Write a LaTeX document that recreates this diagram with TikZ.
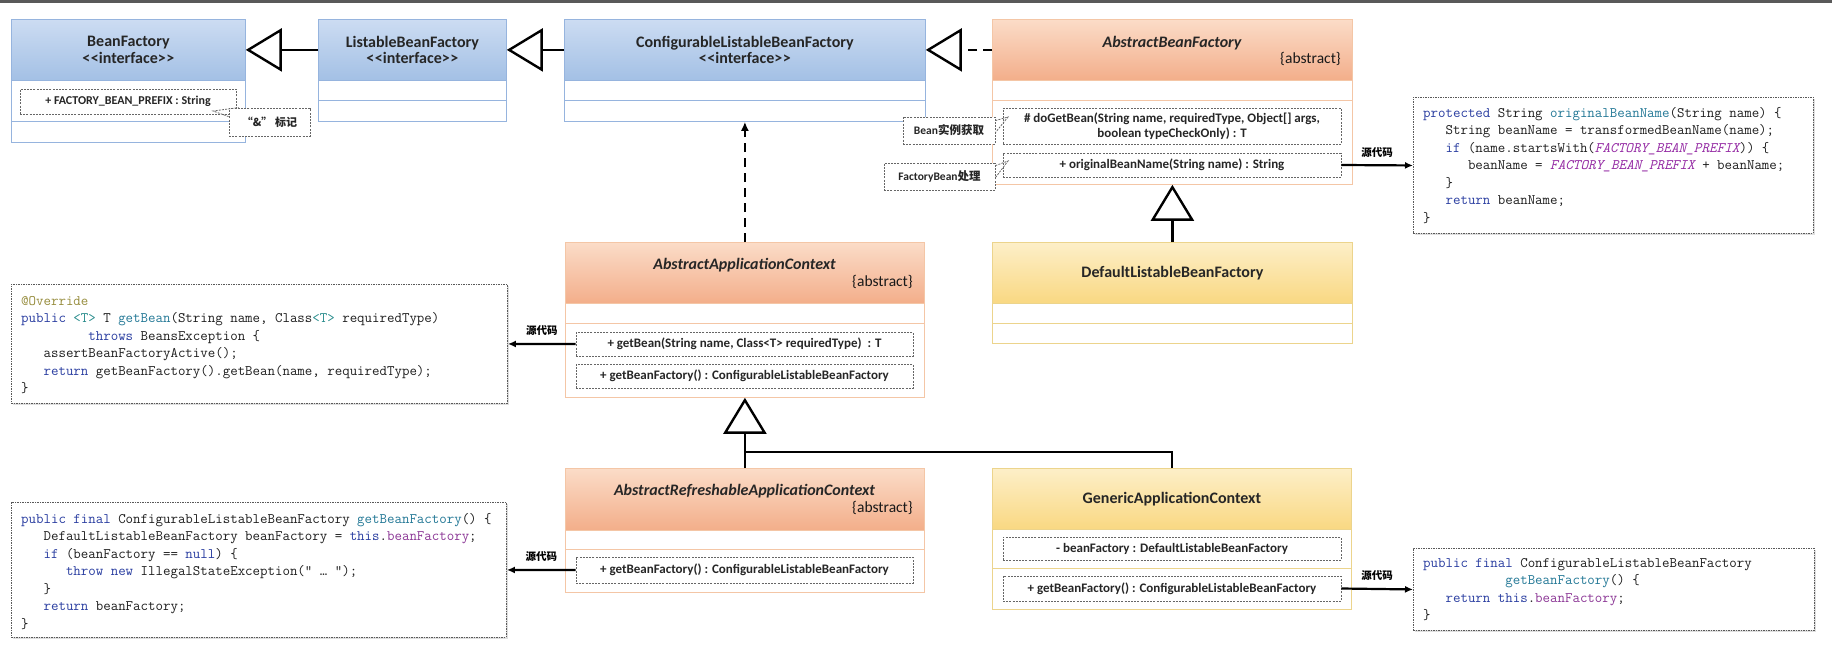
\documentclass[tikz,border=0pt]{standalone}
\usepackage{fontspec}
\setmainfont{Carlito}
\newfontfamily\cjk{Noto Sans CJK SC}
\usetikzlibrary{arrows.meta,shadows}

\definecolor{kw}{RGB}{40,60,160}
\definecolor{fn}{RGB}{35,120,150}
\definecolor{fld}{RGB}{140,55,150}
\definecolor{cst}{RGB}{150,45,165}
\definecolor{ann}{RGB}{150,140,60}
\definecolor{gen}{RGB}{40,140,140}
\definecolor{codetxt}{RGB}{30,30,30}
\definecolor{bluetop}{RGB}{204,220,242}
\definecolor{bluebot}{RGB}{163,192,229}
\definecolor{blueline}{RGB}{150,180,222}
\definecolor{orgtop}{RGB}{251,220,200}
\definecolor{orgbot}{RGB}{243,174,138}
\definecolor{orgline}{RGB}{244,198,166}
\definecolor{yeltop}{RGB}{253,239,200}
\definecolor{yelbot}{RGB}{249,216,130}
\definecolor{yelline}{RGB}{236,212,140}

\newcommand\ckw[1]{\textcolor{kw}{#1}}
\newcommand\cfn[1]{\textcolor{fn}{#1}}
\newcommand\cfld[1]{\textcolor{fld}{#1}}
\newcommand\ccst[1]{\textcolor{cst}{\itshape #1}}
\newcommand\cann[1]{\textcolor{ann}{#1}}
\newcommand\cgen[1]{\textcolor{gen}{#1}}
\newcommand\cind[1]{\hspace*{\dimexpr#1\fontcharwd\font`0\relax}}
\newcommand\ifc{<\kern0.6pt<interface>\kern0.6pt>}

\tikzset{
  body/.style={draw, line width=0.8pt, fill=white, inner sep=0pt, anchor=north west},
  hdr/.style={draw, line width=0.8pt, inner sep=0pt, anchor=north west, align=center,
    font=\bfseries\fontsize{16}{16.5}\selectfont, text=black!85},
  hblue/.style={hdr, draw=blueline, top color=bluetop, bottom color=bluebot},
  horg/.style={hdr, draw=orgline, top color=orgtop, bottom color=orgbot},
  hyel/.style={hdr, draw=yelline, top color=yeltop, bottom color=yelbot},
  ttl/.style={font=\bfseries\itshape\fontsize{16}{16.5}\selectfont, text=black!85, inner sep=0pt},
  abs/.style={font=\fontsize{15.5}{16}\selectfont, text=black!90, inner sep=0pt, anchor=east},
  meth/.style={draw=black!60, dash pattern=on 2pt off 1.2pt, line width=0.8pt, fill=white,
    font=\bfseries\fontsize{13}{15}\selectfont, align=center, inner sep=0pt, text=black!85},
  notebox/.style={meth, font=\bfseries\fontsize{11.5}{13}\selectfont},
  tail/.style={draw=black!60, dash pattern=on 2pt off 1.2pt, line width=0.8pt},
  codebox/.style={draw=black!65, dash pattern=on 1.5pt off 1pt, line width=0.9pt, fill=white,
    drop shadow={opacity=0.25, shadow xshift=2pt, shadow yshift=-2pt}, inner sep=0pt, anchor=north west},
  codetext/.style={font=\ttfamily\fontsize{14.5}{17.5}\selectfont, align=left, inner sep=0pt,
    anchor=north west, text=codetxt},
  conn/.style={line width=2.4pt, black},
  inh/.style={conn, -{Triangle[length=36pt, width=43pt, fill=white]}},
  dconn/.style={conn, dash pattern=on 9pt off 6pt},
  src/.style={line width=2.2pt, black, -{Latex[length=8pt, width=7pt]}},
  srclbl/.style={font=\cjk\bfseries\fontsize{10.5}{11}\selectfont, inner sep=0pt, above=7pt},
}

\begin{document}
\begin{tikzpicture}[x=1pt,y=-1pt]
\useasboundingbox (0,0) rectangle (1832,662);
\fill[white] (0,0) rectangle (1832,662);
\fill[black!65] (0,0) rectangle (1832,3);

% ---------- BeanFactory
\node[body, draw=blueline, minimum width=234pt, minimum height=123pt] (bf) at (11,19) {};
\node[hblue, minimum width=234pt, minimum height=61pt] (bfh) at (11,19) {BeanFactory\\\ifc};
\draw[blueline, line width=0.8pt] (11,121) -- (245,121);
\node[meth, minimum width=216pt, minimum height=25pt, font=\bfseries\fontsize{12}{14}\selectfont] (bfa) at (128,101.5) {+ FACTORY\_BEAN\_PREFIX : String};

% ---------- ListableBeanFactory
\node[body, draw=blueline, minimum width=188pt, minimum height=102pt] (lbf) at (318,19) {};
\node[hblue, minimum width=188pt, minimum height=61pt] (lbfh) at (318,19) {ListableBeanFactory\\\ifc};
\draw[blueline, line width=0.8pt] (318,100) -- (506,100);

% ---------- ConfigurableListableBeanFactory
\node[body, draw=blueline, minimum width=361pt, minimum height=102pt] (clbf) at (564,19) {};
\node[hblue, minimum width=361pt, minimum height=61pt] (clbfh) at (564,19) {ConfigurableListableBeanFactory\\\ifc};
\draw[blueline, line width=0.8pt] (564,100) -- (925,100);

% ---------- AbstractBeanFactory
\node[body, draw=orgline, minimum width=360pt, minimum height=165pt] (abf) at (992,19) {};
\node[horg, minimum width=360pt, minimum height=61pt] (abfh) at (992,19) {};
\node[ttl] (abft) at (1172,43) {AbstractBeanFactory};
\node[abs] (abfa) at (1341,59) {\{abstract\}};
\draw[orgline, line width=0.8pt] (992,100) -- (1352,100);
\node[meth, minimum width=338pt, minimum height=36pt] (abfd) at (1172,126) {\# doGetBean(String name, requiredType, Object[] args,\\boolean typeCheckOnly) : T};
\node[meth, minimum width=338pt, minimum height=24pt] (abfo) at (1172,165) {+ originalBeanName(String name) : String};

% ---------- DefaultListableBeanFactory
\node[body, draw=yelline, minimum width=360pt, minimum height=101pt] (dlbf) at (992,242) {};
\node[hyel, minimum width=360pt, minimum height=61pt] (dlbfh) at (992,242) {DefaultListableBeanFactory};
\draw[yelline, line width=0.8pt] (992,323) -- (1352,323);

% ---------- AbstractApplicationContext
\node[body, draw=orgline, minimum width=359pt, minimum height=155pt] (aac) at (565,242) {};
\node[horg, minimum width=359pt, minimum height=61pt] (aach) at (565,242) {};
\node[ttl] (aact) at (744.5,265) {AbstractApplicationContext};
\node[abs] (aaca) at (913,282) {\{abstract\}};
\draw[orgline, line width=0.8pt] (565,323) -- (924,323);
\node[meth, minimum width=337pt, minimum height=24pt] (aacg) at (744.5,344) {+ getBean(String name, Class<T> requiredType)\ \ : T};
\node[meth, minimum width=337pt, minimum height=24pt] (aacf) at (744.5,376) {+ getBeanFactory() : ConfigurableListableBeanFactory};

% ---------- AbstractRefreshableApplicationContext
\node[body, draw=orgline, minimum width=359pt, minimum height=124pt] (arac) at (565,468) {};
\node[horg, minimum width=359pt, minimum height=62pt] (arach) at (565,468) {};
\node[ttl] (aract) at (744.5,491) {AbstractRefreshableApplicationContext};
\node[abs] (araca) at (913,508) {\{abstract\}};
\draw[orgline, line width=0.8pt] (565,549) -- (924,549);
\node[meth, minimum width=337pt, minimum height=26pt] (aracf) at (744.5,570) {+ getBeanFactory() : ConfigurableListableBeanFactory};

% ---------- GenericApplicationContext
\node[body, draw=yelline, minimum width=359pt, minimum height=141pt] (gac) at (992,468) {};
\node[hyel, minimum width=359pt, minimum height=61pt] (gach) at (992,468) {GenericApplicationContext};
\draw[yelline, line width=0.8pt] (992,568) -- (1351,568);
\node[meth, minimum width=338pt, minimum height=23pt] (gaca) at (1172,548.5) {- beanFactory : DefaultListableBeanFactory};
\node[meth, minimum width=338pt, minimum height=25pt] (gacf) at (1172,588.5) {+ getBeanFactory() : ConfigurableListableBeanFactory};

% ---------- notes
\node[notebox, minimum width=81pt, minimum height=28pt, font=\cjk\bfseries\fontsize{11}{13}\selectfont] (ampn) at (269.5,122) {“\&” 标记};
\coordinate (ampt) at (213,111);
\draw[tail] ([yshift=-9pt]ampn.north west) -- (ampt) -- ([xshift=10pt]ampn.north west);
\node[notebox, minimum width=92pt, minimum height=27pt] (beann) at (949,130.5) {Bean{\cjk 实例获取}};
\coordinate (beant) at (1008,117);
\draw[tail] ([yshift=-4pt]beann.north east) -- (beant) -- ([yshift=-16pt]beann.north east);
\node[notebox, minimum width=111pt, minimum height=27pt] (fbn) at (939.5,176.5) {FactoryBean{\cjk 处理}};
\coordinate (fbt) at (1008,161);
\draw[tail] ([yshift=-3pt]fbn.north east) -- (fbt) -- ([yshift=-15pt]fbn.north east);

% ---------- code boxes
\node[codebox, minimum width=400pt, minimum height=136pt] (c1) at (1413,97) {};
\node[codetext] (c1t) at (1423,104.75) {\strut\ckw{protected} String \cfn{originalBeanName}(String name) \{\\
\cind{3}String beanName = transformedBeanName(name);\\
\cind{3}\ckw{if} (name.startsWith(\ccst{FACTORY\_BEAN\_PREFIX})) \{\\
\cind{6}beanName = \ccst{FACTORY\_BEAN\_PREFIX} + beanName;\\
\cind{3}\}\\
\cind{3}\ckw{return} beanName;\\
\}};

\node[codebox, minimum width=496pt, minimum height=119pt] (c2) at (11,284) {};
\node[codetext] (c2t) at (21,292.75) {\strut\cann{@Override}\\
\ckw{public} \cgen{<T>} T \cfn{getBean}(String name, Class\cgen{<T>} requiredType)\\
\cind{9}\ckw{throws} BeansException \{\\
\cind{3}assertBeanFactoryActive();\\
\cind{3}\ckw{return} getBeanFactory().getBean(name, requiredType);\\
\}};

\node[codebox, minimum width=495pt, minimum height=135pt] (c3) at (11,502) {};
\node[codetext] (c3t) at (21,510.75) {\strut\ckw{public final} ConfigurableListableBeanFactory \cfn{getBeanFactory}() \{\\
\cind{3}DefaultListableBeanFactory beanFactory = \ckw{this}.\cfld{beanFactory};\\
\cind{3}\ckw{if} (beanFactory == \ckw{null}) \{\\
\cind{6}\ckw{throw new} IllegalStateException(" … ");\\
\cind{3}\}\\
\cind{3}\ckw{return} beanFactory;\\
\}};

\node[codebox, minimum width=401pt, minimum height=82pt] (c4) at (1413,548) {};
\node[codetext] (c4t) at (1423,554.75) {\strut\ckw{public final} ConfigurableListableBeanFactory\\
\cind{11}\cfn{getBeanFactory}() \{\\
\cind{3}\ckw{return this}.\cfld{beanFactory};\\
\}};

% ---------- connectors
\draw[inh] (lbfh.west) -- (bfh.east);
\draw[inh] (clbfh.west) -- (lbfh.east);
\draw[dconn, -{Triangle[length=36pt, width=43pt, fill=white]}] (abfh.west) -- (clbfh.east);
\draw[dconn, -{Latex[length=9pt, width=8pt]}] (aach.north) -- (clbf.south);
\draw[inh] (dlbfh.north) -- (abf.south);
\coordinate (j1) at (744.5,452);
\draw[inh] (arach.north) -- (aac.south);
\draw[conn] (gach.north) |- (j1);

\draw[src] (abfo.east) -- node[srclbl] (l1) {源代码} (c1.west);
\draw[src] (aacg.west) -- node[srclbl] (l2) {源代码} (c2.east);
\draw[src] (aracf.west) -- node[srclbl] (l3) {源代码} (c3.east);
\draw[src] (gacf.east) -- node[srclbl] (l4) {源代码} (c4.west);
\end{tikzpicture}
\end{document}
